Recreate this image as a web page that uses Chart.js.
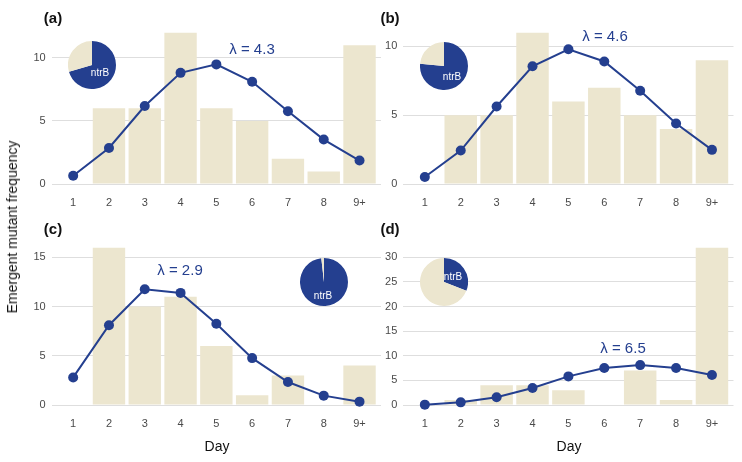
<!DOCTYPE html>
<html>
<head>
<meta charset="utf-8">
<script src="https://cdn.jsdelivr.net/npm/chart.js@4.4.1/dist/chart.umd.min.js"></script>
<style>
  body { margin: 0; width: 742px; height: 462px; background: #fff; position: relative; overflow: hidden;
         font-family: "Liberation Sans", Arial, sans-serif; }
  canvas { position: absolute; }
  .txt { position: absolute; white-space: nowrap; transform: translate(-50%, -50%); line-height: 1; }
  .panel { font-weight: bold; font-size: 15px; color: #111; }
  .lambda { font-size: 15px; color: #243f8f; }
  .pielab { font-size: 10px; color: #fff; }
  .axis { font-size: 14px; color: #111; }
  .ytitle { transform: translate(-50%, -50%) rotate(-90deg); }
</style>
</head>
<body>
<canvas id="ca" width="376" height="200" style="left:10px;top:20px"></canvas>
<canvas id="cb" width="371" height="200" style="left:371px;top:20px"></canvas>
<canvas id="cc" width="376" height="212" style="left:10px;top:229px"></canvas>
<canvas id="cd" width="371" height="212" style="left:371px;top:229px"></canvas>

<canvas id="pa" width="48" height="48" style="left:68px;top:41px"></canvas>
<canvas id="pb" width="48" height="48" style="left:420px;top:42px"></canvas>
<canvas id="pc" width="48" height="48" style="left:300px;top:258px"></canvas>
<canvas id="pd" width="48" height="48" style="left:420px;top:258px"></canvas>

<div class="txt panel" style="left:53px;top:17px">(a)</div>
<div class="txt panel" style="left:390px;top:17px">(b)</div>
<div class="txt panel" style="left:53px;top:228px">(c)</div>
<div class="txt panel" style="left:390px;top:228px">(d)</div>

<div class="txt pielab" style="left:100px;top:73px">ntrB</div>
<div class="txt pielab" style="left:452px;top:77px">ntrB</div>
<div class="txt pielab" style="left:323px;top:296px">ntrB</div>
<div class="txt pielab" style="left:453px;top:277px">ntrB</div>

<div id="la" class="txt lambda" style="left:252px;top:48px"></div>
<div id="lb" class="txt lambda" style="left:605px;top:35px"></div>
<div id="lc" class="txt lambda" style="left:180px;top:269px"></div>
<div id="ld" class="txt lambda" style="left:623px;top:347px"></div>

<div class="txt axis" style="left:217px;top:446px">Day</div>
<div class="txt axis" style="left:569px;top:446px">Day</div>
<div class="txt axis ytitle" style="left:12px;top:227px">Emergent mutant frequency</div>

<script>
// data
const days = ['1', '2', '3', '4', '5', '6', '7', '8', '9+'];

const barsA = [0, 6, 6, 12, 6, 5, 2, 1, 11];
const lineA = [0.65, 2.86, 6.18, 8.81, 9.48, 8.1, 5.77, 3.52, 1.86];
const barsB = [0, 5, 5, 11, 6, 7, 5, 4, 9];
const lineB = [0.51, 2.43, 5.63, 8.55, 9.79, 8.9, 6.77, 4.39, 2.48];
const barsC = [0, 16, 10, 11, 6, 1, 3, 0, 4];
const lineC = [2.8, 8.1, 11.75, 11.38, 8.24, 4.76, 2.33, 0.95, 0.34];
const barsD = [0, 1, 4, 4, 3, 0, 7, 1, 32];
const lineD = [0.07, 0.54, 1.56, 3.45, 5.81, 7.5, 8.1, 7.5, 6.08];

const yTicksA = [0, 5, 10];
const yTicksB = [0, 5, 10];
const yTicksC = [0, 5, 10, 15];
const yTicksD = [0, 5, 10, 15, 20, 25, 30];
const yMax = [12, 11, 16, 32];

const lambdas = ['4.3', '4.6', '2.9', '6.5'];
const ntrbShare = [0.705, 0.765, 0.982, 0.31];

const BLUE = '#243f8f';
const CREAM = '#ece6cf';
const tickFont = { family: '"Liberation Sans", Arial, sans-serif', size: 11 };

function panel(id, bars, line, yTicks, max, yWidth, pad) {
  new Chart(document.getElementById(id), {
    data: {
      datasets: [
        {
          type: 'line',
          data: line.map((v, i) => ({ x: i + 1, y: v })),
          borderColor: BLUE,
          borderWidth: 2,
          pointRadius: 5,
          pointBackgroundColor: BLUE,
          pointBorderWidth: 0,
          clip: false,
          order: 0
        },
        {
          type: 'bar',
          data: bars.map((v, i) => ({ x: i + 1, y: v })),
          backgroundColor: CREAM,
          borderWidth: 0,
          categoryPercentage: 1,
          barPercentage: 0.905,
          order: 1
        }
      ]
    },
    options: {
      responsive: false,
      animation: false,
      events: [],
      layout: { padding: pad },
      plugins: { legend: { display: false }, tooltip: { enabled: false } },
      scales: {
        x: {
          type: 'linear',
          min: 0.4,
          max: 9.6,
          offset: false,
          grid: { display: false, offset: false },
          border: { display: false },
          ticks: { color: '#4a4a4a', font: tickFont, padding: 4, autoSkip: false, maxRotation: 0,
                   callback: v => days[v - 1] },
          afterBuildTicks: s => { s.ticks = days.map((d, i) => ({ value: i + 1 })); },
          afterFit: s => { s.height = 36; }
        },
        y: {
          min: 0,
          max: max,
          grid: { color: '#dedede', lineWidth: 1, drawTicks: false },
          border: { display: false },
          ticks: { color: '#4a4a4a', font: tickFont, padding: 6 },
          afterBuildTicks: s => { s.ticks = yTicks.map(v => ({ value: v })); },
          afterFit: s => { s.width = yWidth; }
        }
      }
    }
  });
}

panel('ca', barsA, lineA, yTicksA, yMax[0], 41.7, { top: 7.4, right: 5, left: 0, bottom: 0 });
panel('cb', barsB, lineB, yTicksB, yMax[1], 32.3, { top: 7, right: 8.5, left: 0, bottom: 0 });
panel('cc', barsC, lineC, yTicksC, yMax[2], 41.7, { top: 18.4, right: 5, left: 0, bottom: 0 });
panel('cd', barsD, lineD, yTicksD, yMax[3], 32.3, { top: 18.4, right: 8.5, left: 0, bottom: 0 });

['pa', 'pb', 'pc', 'pd'].forEach((id, k) => {
  new Chart(document.getElementById(id), {
    type: 'pie',
    data: {
      labels: ['ntrB', 'other'],
      datasets: [{
        data: [ntrbShare[k], 1 - ntrbShare[k]],
        backgroundColor: [BLUE, CREAM],
        borderWidth: 0
      }]
    },
    options: {
      responsive: false,
      animation: false,
      events: [],
      plugins: { legend: { display: false }, tooltip: { enabled: false } }
    }
  });
});

['la', 'lb', 'lc', 'ld'].forEach((id, k) => {
  document.getElementById(id).textContent = 'λ = ' + lambdas[k];
});
</script>
</body>
</html>
